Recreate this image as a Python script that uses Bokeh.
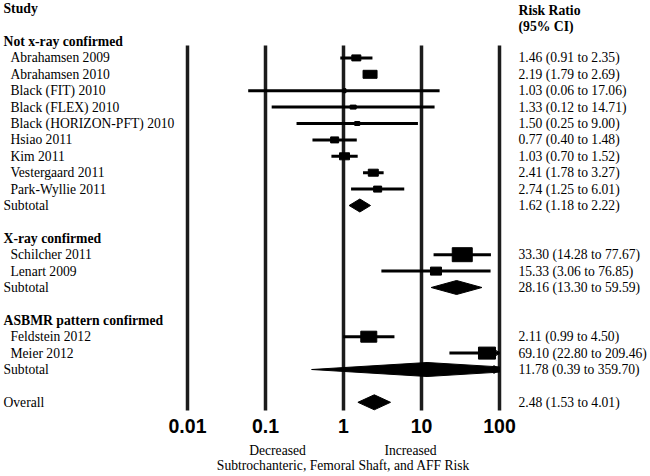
import math
from bokeh.plotting import figure
from bokeh.models import Range1d
from bokeh.core.properties import value
from bokeh.embed import file_html
from bokeh.resources import INLINE

# ---------------- data ----------------
group_names = ["Not x-ray confirmed", "X-ray confirmed", "ASBMR pattern confirmed"]

g1_studies = ["Abrahamsen 2009", "Abrahamsen 2010", "Black (FIT) 2010", "Black (FLEX) 2010",
              "Black (HORIZON-PFT) 2010", "Hsiao 2011", "Kim 2011", "Vestergaard 2011",
              "Park-Wyllie 2011"]
g1_rr = [1.46, 2.19, 1.03, 1.33, 1.50, 0.77, 1.03, 2.41, 2.74]
g1_lo = [0.91, 1.79, 0.06, 0.12, 0.25, 0.40, 0.70, 1.78, 1.25]
g1_hi = [2.35, 2.69, 17.06, 14.71, 9.00, 1.48, 1.52, 3.27, 6.01]
g1_sub = [1.62, 1.18, 2.22]

g2_studies = ["Schilcher 2011", "Lenart 2009"]
g2_rr = [33.30, 15.33]
g2_lo = [14.28, 3.06]
g2_hi = [77.67, 76.85]
g2_sub = [28.16, 13.30, 59.59]

g3_studies = ["Feldstein 2012", "Meier 2012"]
g3_rr = [2.11, 69.10]
g3_lo = [0.99, 22.80]
g3_hi = [4.50, 209.46]
g3_sub = [11.78, 0.39, 359.70]

overall = [2.48, 1.53, 4.01]

tick_values = [0.01, 0.1, 1, 10, 100]
tick_labels = ["0.01", "0.1", "1", "10", "100"]

# ---------------- style / layout ----------------
box_sizes = [[(9, 6), (14, 8), (3, 4), (6, 4), (5, 4), (8, 6), (10, 7), (10, 7), (8, 6)],
             [(20, 14), (11, 8)],
             [(16, 11), (17, 12)]]
diamond_h = [13, 14, 14]
overall_h = 15

W, H = 650, 476
X1PX, DEC = 343, 78.0          # px of value 1, px per decade


def xv(px):
    return 10 ** ((px - X1PX) / DEC)


Y0, DY = 41.0, 16.4


def yrow(k):
    return Y0 + DY * k


XMAX = tick_values[-1]

p = figure(width=W, height=H, output_backend="svg", toolbar_location=None,
           x_axis_type="log", x_axis_location=None, y_axis_location=None,
           x_range=Range1d(xv(0), xv(W)), y_range=Range1d(H, 0),
           min_border=0, outline_line_color=None)
p.xgrid.visible = False
p.ygrid.visible = False
p.background_fill_color = "white"

SERIF = value("Liberation Serif")
SANS = value("Liberation Sans")
FS = "13.6px"
FSB = "13.7px"

# vertical reference lines
p.segment(x0=tick_values, x1=tick_values, y0=[45] * 5, y1=[410] * 5,
          line_width=3.5, line_color="#1c1c1c")

groups = [(g1_studies, g1_rr, g1_lo, g1_hi, g1_sub),
          (g2_studies, g2_rr, g2_lo, g2_hi, g2_sub),
          (g3_studies, g3_rr, g3_lo, g3_hi, g3_sub)]

hdr_txt, hdr_y = [], []
st_txt, st_y = [], []
ci_txt, ci_y = [], []
box_x, box_y, box_w, box_h = [], [], [], []
seg_x0, seg_x1, seg_y = [], [], []
arrow_y = []
dia_xs, dia_ys = [], []


def fmt(r, l, h):
    return f"{r:.2f} ({l:.2f} to {h:.2f})"


def diamond(r, l, h, y, hh):
    half = hh / 2.0
    xs, ys = [l, r], [y, y - half]
    if h > XMAX:
        frac = (math.log10(h) - math.log10(XMAX)) / (math.log10(h) - math.log10(r))
        xs += [XMAX, XMAX]
        ys += [y - half * frac, y + half * frac]
        arrow_y.append(y)
    else:
        xs += [h]
        ys += [y]
    xs += [r]
    ys += [y + half]
    dia_xs.append(xs)
    dia_ys.append(ys)


k = 0
for gi, (names, rr, lo, hi, sub) in enumerate(groups):
    hdr_txt.append(group_names[gi])
    hdr_y.append(yrow(k))
    k += 1
    for j, name in enumerate(names):
        y = yrow(k)
        st_txt.append(name)
        st_y.append(y)
        ci_txt.append(fmt(rr[j], lo[j], hi[j]))
        ci_y.append(y)
        seg_x0.append(lo[j])
        seg_x1.append(min(hi[j], XMAX))
        seg_y.append(y)
        if hi[j] > XMAX:
            arrow_y.append(y)
        w, h = box_sizes[gi][j]
        box_x.append(rr[j])
        box_y.append(y)
        box_w.append(w)
        box_h.append(h)
        k += 1
    y = yrow(k)
    st_txt.append("Subtotal")
    st_y.append(y)
    ci_txt.append(fmt(*sub))
    ci_y.append(y)
    diamond(sub[0], sub[1], sub[2], y, diamond_h[gi])
    k += 2

y = yrow(k)
st_txt.append("Overall")
st_y.append(y)
ci_txt.append(fmt(*overall))
ci_y.append(y)
diamond(overall[0], overall[1], overall[2], y, overall_h)

# CI lines
p.segment(x0=seg_x0, x1=seg_x1, y0=seg_y, y1=seg_y, line_width=3, line_color="black")
# boxes
p.rect(x=box_x, y=box_y, width=box_w, height=box_h, width_units="screen",
       height_units="screen", fill_color="black", line_color="black")
# diamonds
p.patches(xs=dia_xs, ys=dia_ys, fill_color="black", line_color="black", line_width=1)
# arrows at the clipped end
ax = [XMAX / 10 ** (6 / DEC)] * len(arrow_y)
p.segment(x0=ax, x1=[XMAX] * len(arrow_y), y0=[a - 4 for a in arrow_y], y1=arrow_y,
          line_color="black", line_width=1.2)
p.segment(x0=ax, x1=[XMAX] * len(arrow_y), y0=[a + 4 for a in arrow_y], y1=arrow_y,
          line_color="black", line_width=1.2)

# texts
left_hdr = xv(3)
left_st = xv(10)
right_x = xv(518)
tx = dict(text_baseline="middle", text_align="left", text_color="black")

p.text(x=[left_hdr], y=[8], text=["Study"], text_font=SERIF,
       text_font_style="bold", text_font_size=FSB, **tx)
p.text(x=[right_x, right_x], y=[10, 26], text=["Risk Ratio", "(95% CI)"],
       text_font=SERIF, text_font_style="bold", text_font_size=FSB, **tx)
p.text(x=[left_hdr] * len(hdr_txt), y=hdr_y, text=hdr_txt, text_font=SERIF,
       text_font_style="bold", text_font_size=FSB, **tx)
st_x = [left_hdr if t in ("Subtotal", "Overall") else left_st for t in st_txt]
p.text(x=st_x, y=st_y, text=st_txt, text_font=SERIF, text_font_size=FS, **tx)
p.text(x=[right_x] * len(ci_txt), y=ci_y, text=ci_txt, text_font=SERIF,
       text_font_size=FS, **tx)

# tick labels
p.text(x=tick_values, y=[425] * 5, text=tick_labels, text_font=SANS,
       text_font_style="bold", text_font_size="19.5px", text_align="center",
       text_baseline="middle", text_color="black")

# bottom captions
p.text(x=[xv(277), xv(410)], y=[450] * 2, text=["Decreased", "Increased"],
       text_font=SERIF, text_font_size=FS, text_align="center",
       text_baseline="middle", text_color="black")
p.text(x=[xv(343)], y=[465], text=["Subtrochanteric, Femoral Shaft, and AFF Risk"],
       text_font=SERIF, text_font_size=FS, text_align="center",
       text_baseline="middle", text_color="black")

open("out.html", "w").write(file_html(p, INLINE))
